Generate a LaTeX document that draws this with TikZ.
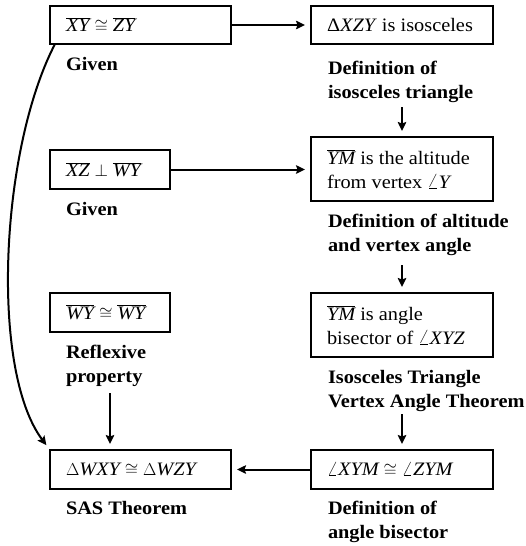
\documentclass[tikz,border=0pt]{standalone}
\usepackage{fontspec}
\setmainfont{Liberation Serif}[FakeStretch=1.07]
\usetikzlibrary{arrows.meta}
\newcommand\seg[1]{\overline{\textit{#1}}}
\newcommand\vv[1]{\textit{#1}}
\begin{document}
\begin{tikzpicture}[x=1pt,y=-1pt,
  box/.style={draw, line width=1.1pt, inner xsep=16pt, inner ysep=0pt, outer sep=0pt,
    align=flush left, anchor=north west, font=\fontsize{19}{24}\selectfont},
  lbl/.style={inner sep=0pt, outer sep=0pt, align=left, anchor=base west,
    font=\fontsize{19}{24}\selectfont\bfseries},
  arr/.style={line width=2pt, -{Stealth[length=9pt,width=8.5pt,inset=1.5pt]}, shorten >=6pt}]
\useasboundingbox (0,0) rectangle (525,546);
% left column
\node[box, text width=149pt, minimum height=38pt] (b1) at (50,6) {$\seg{XY}\cong\seg{ZY}$};
\node[lbl] (g1) at (66,70) {Given};
\node[box, text width=88pt, minimum height=39pt] (b2) at (50,150) {$\seg{XZ}\perp\seg{WY}$};
\node[lbl] (g2) at (66,215) {Given};
\node[box, text width=88pt, minimum height=39pt] (b3) at (50,293) {$\seg{WY}\cong\seg{WY}$};
\node[lbl] (rp) at (66,382) {Reflexive\\property};
\node[box, text width=149pt, minimum height=39pt] (b4) at (50,450) {$\Delta\vv{WXY}\cong\Delta\vv{WZY}$};
\node[lbl] (sas) at (66,514) {SAS Theorem};
% right column
\node[box, text width=150pt, minimum height=38pt] (r1) at (311,6) {Δ\vv{XZY} is isosceles};
\node[lbl] (d1) at (328,98) {Definition of\\isosceles triangle};
\node[box, text width=150pt, minimum height=64pt] (r2) at (311,137) {$\seg{YM}$ is the altitude\\from vertex $\angle\vv{Y}$};
\node[lbl] (d2) at (328,251) {Definition of altitude\\and vertex angle};
\node[box, text width=150pt, minimum height=64pt] (r3) at (311,293) {$\seg{YM}$ is angle\\bisector of $\angle\vv{XYZ}$};
\node[lbl] (d3) at (328,407) {Isosceles Triangle\\Vertex Angle Theorem};
\node[box, text width=150pt, minimum height=39pt] (r4) at (311,450) {$\angle\vv{XYM}\cong\angle\vv{ZYM}$};
\node[lbl] (d4) at (328,538) {Definition of\\angle bisector};
% connectors
\draw[arr] (b1.east) -- (r1.west);
\draw[arr] (b2.east) -- (r2.west |- b2.east);
\draw[arr] (r4.west) -- (b4.east);
\draw[arr, shorten <=5pt] (d1.south -| r2.north) -- (r2.north);
\draw[arr, shorten <=10pt] (d2.south -| r3.north) -- (r3.north);
\draw[arr, shorten <=3pt] (d3.south -| r4.north) -- (r4.north);
\draw[arr, shorten <=7pt] (rp.south -| b3.south) -- (b3.south |- b4.north);
\draw[arr] ([xshift=5pt]b1.south west) .. controls (0,150) and (-10,370) .. (b4.north west);
\end{tikzpicture}
\end{document}
